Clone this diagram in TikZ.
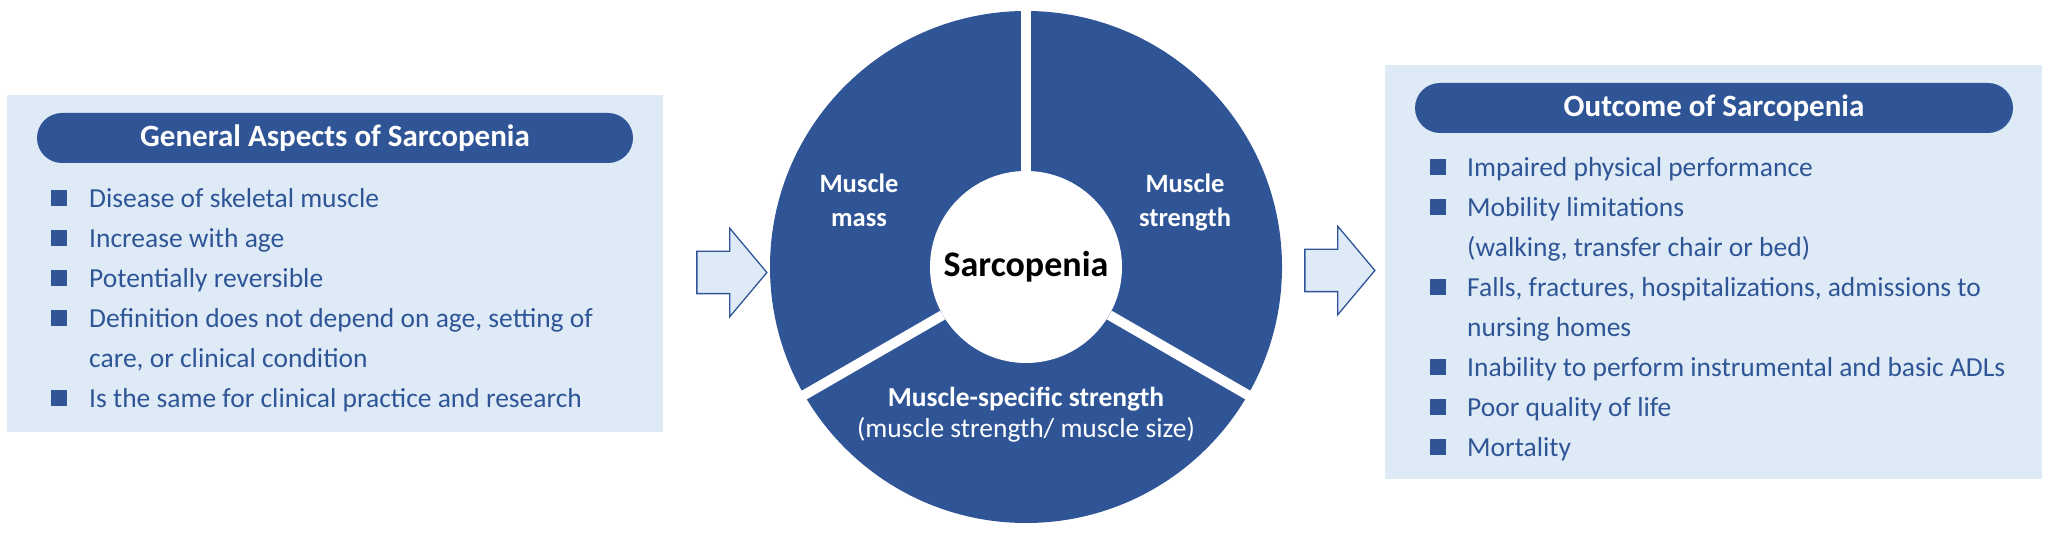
\documentclass[tikz,border=0pt]{standalone}
\usepackage{fontspec}
\setmainfont{Carlito}
\usetikzlibrary{shapes.arrows}
\definecolor{sarcblue}{HTML}{2F5597}
\definecolor{sarclight}{HTML}{DEEBF7}
\tikzset{
  panel/.style={fill=sarclight, inner sep=0},
  pill/.style={fill=sarcblue, text=white, rounded corners=25bp, minimum height=50bp, inner sep=0,
    font=\bfseries\fontsize{31bp}{36bp}\selectfont},
  sq/.style={fill=sarcblue, minimum size=16bp, inner sep=0},
  item/.style={text=sarcblue, anchor=base west, align=left, inner sep=0,
    font=\fontsize{27.5bp}{40bp}\selectfont},
  wedge/.style={text=white, align=center, inner sep=0, font=\bfseries\fontsize{26.5bp}{34bp}\selectfont},
  gap/.style={white, line width=10bp},
  blockarrow/.style={single arrow, draw=sarcblue, line width=1.3bp, fill=sarclight,
    minimum height=70bp, inner xsep=0, inner ysep=20.5bp,
    single arrow head extend=23bp, single arrow tip angle=100}
}
\begin{document}
\begin{tikzpicture}[x=1bp, y=1bp]
\useasboundingbox (0,0) rectangle (2050,533);
% left panel
\node[panel, minimum width=656bp, minimum height=337bp] (genbox) at (335,269.5) {};
\node[pill, minimum width=596bp] (genhead) at (335,395) {General Aspects of Sarcopenia};
\node[sq] (g1) at (59,335) {};
\node[item] (g1t) at (89,325.5) {Disease of skeletal muscle};
\node[sq] (g2) at (59,295) {};
\node[item] (g2t) at (89,285.5) {Increase with age};
\node[sq] (g3) at (59,255) {};
\node[item] (g3t) at (89,245.5) {Potentially reversible};
\node[sq] (g4) at (59,215) {};
\node[item] (g4t) at (89,165.5) {Definition does not depend on age, setting of\\care, or clinical condition};
\node[sq] (g5) at (59,135) {};
\node[item] (g5t) at (89,125.5) {Is the same for clinical practice and research};

% arrows
\node[blockarrow] (arrL) at (723,260.5) {};
\node[blockarrow] (arrR) at (1331,262.5) {};

% wheel
\node[circle, fill=sarcblue, minimum size=512bp, inner sep=0] (ring) at (1026,266) {};
\node[circle, fill=white, minimum size=192bp, inner sep=0, font=\bfseries\fontsize{36bp}{40bp}\selectfont] (sarc) at (1026,266) {Sarcopenia};
\draw[gap, shorten >=-3bp] (sarc.90) -- (ring.90);
\draw[gap, shorten >=-3bp] (sarc.210) -- (ring.210);
\draw[gap, shorten >=-3bp] (sarc.330) -- (ring.330);
\node[wedge, anchor=base] (mass) at (859,306) {Muscle\\mass};
\node[wedge, anchor=base] (strength) at (1185,306) {Muscle\\strength};
\node[wedge, anchor=base, font=\fontsize{27.5bp}{31bp}\selectfont] (specific) at (1026,95)
  {\textbf{Muscle-specific strength}\\(muscle strength/ muscle size)};

% right panel
\node[panel, minimum width=657bp, minimum height=414bp] (outbox) at (1713.5,261) {};
\node[pill, minimum width=598bp] (outhead) at (1714,425) {Outcome of Sarcopenia};
\node[sq] (o1) at (1437.5,366) {};
\node[item] (o1t) at (1467,356.5) {Impaired physical performance};
\node[sq] (o2) at (1437.5,326) {};
\node[item] (o2t) at (1467,276.5) {Mobility limitations\\(walking, transfer chair or bed)};
\node[sq] (o3) at (1437.5,246) {};
\node[item] (o3t) at (1467,196.5) {Falls, fractures, hospitalizations, admissions to\\nursing homes};
\node[sq] (o4) at (1437.5,166) {};
\node[item] (o4t) at (1467,156.5) {Inability to perform instrumental and basic ADLs};
\node[sq] (o5) at (1437.5,126) {};
\node[item] (o5t) at (1467,116.5) {Poor quality of life};
\node[sq] (o6) at (1437.5,86) {};
\node[item] (o6t) at (1467,76.5) {Mortality};
\end{tikzpicture}
\end{document}
